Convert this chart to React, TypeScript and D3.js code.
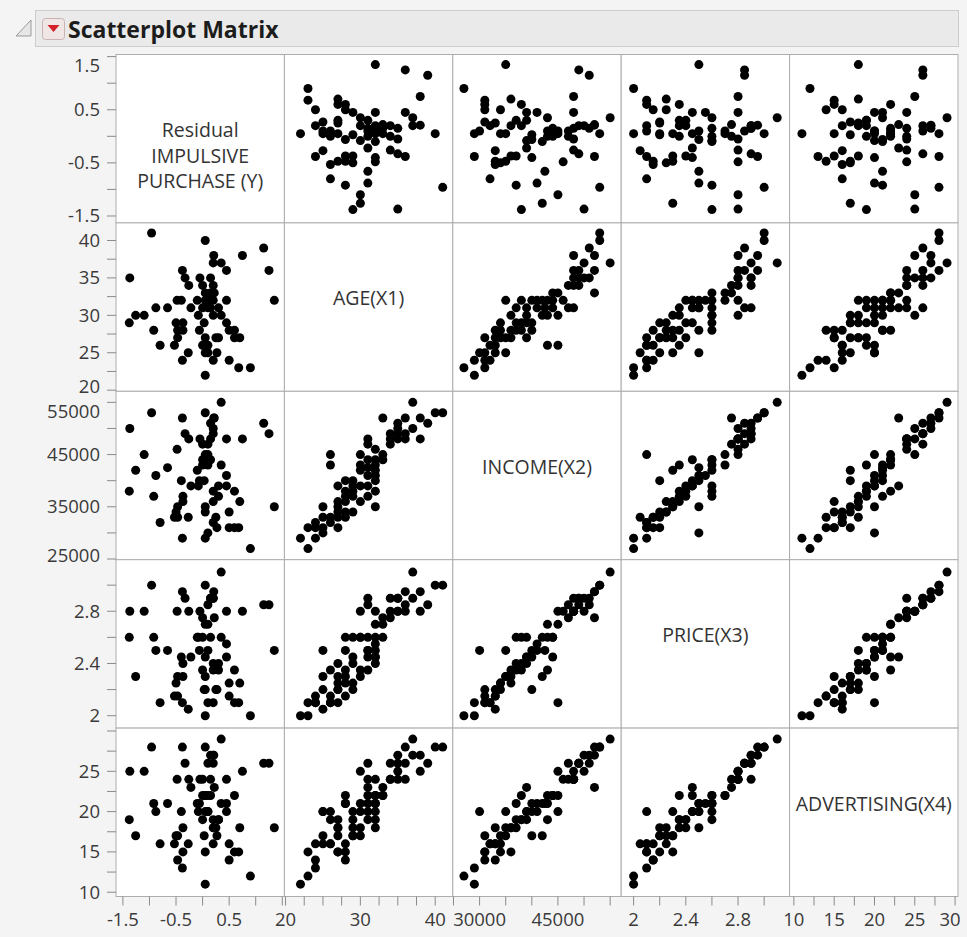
import React from 'react';
import * as d3 from 'd3';

// one entry per respondent
const age = [41, 40, 39, 38, 38, 37, 37, 36, 36, 36, 35, 35, 35, 35, 34, 34, 34, 33, 33, 33,
  32, 32, 32, 32, 32, 32, 32, 32, 31, 31, 31, 31, 31, 31, 31, 30, 30, 30, 30, 30,
  29, 29, 29, 29, 29, 28, 28, 28, 28, 28, 28, 27, 27, 27, 27, 27, 27, 26, 26, 26, 26,
  25, 25, 25, 25, 24, 24, 24, 23, 23, 22];
const income = [53000, 53000, 51000, 52000, 48000, 55000, 50000, 52000, 49000, 48000, 50000, 49000, 48000, 51000, 48000, 47000, 49000, 52000, 44000, 45000,
  35000, 46000, 40000, 42000, 44000, 38000, 41000, 43000, 41000, 42500, 39000, 44000, 47000, 48000, 37000, 42000, 45000, 39000, 36000, 43000,
  38000, 34000, 37000, 40000, 39000, 37000, 33000, 36000, 40000, 34000, 38000, 35000, 34000, 33000, 39000, 31000, 36000, 32000, 33000, 43000, 45000,
  35000, 30000, 31000, 33000, 29000, 31000, 32000, 27000, 31000, 29000];
const price = [3.0, 3.0, 2.85, 2.95, 2.8, 3.1, 2.9, 2.95, 2.85, 2.8, 2.8, 2.9, 2.8, 2.9, 2.8, 2.75, 2.9, 2.75, 2.6, 2.7,
  2.5, 2.8, 2.45, 2.6, 2.45, 2.4, 2.55, 2.7, 2.5, 2.5, 2.45, 2.6, 2.85, 2.9, 2.35, 2.3, 2.8, 2.6, 2.35, 2.6,
  2.6, 2.25, 2.4, 2.2, 2.45, 2.6, 2.15, 2.3, 2.5, 2.25, 2.35, 2.3, 2.2, 2.2, 2.4, 2.1, 2.25, 2.1, 2.15, 2.35, 2.1,
  2.3, 2.5, 2.2, 2.05, 2.1, 2.15, 2.1, 2.0, 2.1, 2.0];
const advertising = [28, 28, 26, 27, 25, 29, 27, 28, 26, 24, 25, 26, 24, 27, 24, 24, 26, 23, 22, 22,
  18, 24, 20, 21, 22, 19, 21, 22, 20, 21, 23, 22, 26, 24, 19, 17, 25, 20, 18, 21,
  19, 17, 18, 17, 20, 21, 14, 15, 21, 16, 22, 17, 15, 18, 19, 15, 18, 16, 16, 19, 20,
  20, 20, 17, 16, 13, 14, 16, 12, 15, 11];
const residual = [-0.96, 0.05, 1.15, 0.21, 0.75, 0.35, 0.2, -0.38, 1.25, 0.45, -1.37, -0.33, -0.05, 0.15, -0.26, 0.0, 0.2, 0.22, 0.15, 0.05,
  1.35, -0.48, -0.4, -0.1, 0.05, 0.2, 0.45, 0.1, -0.88, -0.66, -0.22, 0.0, 0.1, 0.15, 0.3, -1.26, -1.1, -0.08, 0.2, 0.35,
  -1.38, -0.5, -0.37, 0.03, 0.45, -0.92, -0.47, -0.37, -0.06, 0.5, 0.6, -0.47, 0.05, 0.25, 0.3, 0.6, 0.7, -0.8, -0.53, 0.0, 0.1,
  0.05, 0.1, 0.27, -0.27, -0.38, 0.5, 0.2, 0.9, 0.68, 0.05];

const columns = [residual, age, income, price, advertising];
const varLabels = [['Residual', 'IMPULSIVE', 'PURCHASE (Y)'], ['AGE(X1)'], ['INCOME(X2)'], ['PRICE(X3)'], ['ADVERTISING(X4)']];
const domains = [[-1.63, 1.54], [19.85, 42.35], [24870, 57115], [1.905, 3.195], [9.47, 30.36]];
const tickStart = [-1.5, 20, 25000, 2, 10];
const tickStop = [1.5, 40, 55000, 3, 30];
const tickStep = [0.5, 2.5, 5000, 0.2, 2.5];
const yTickLabels = [[-1.5, -0.5, 0.5, 1.5], [20, 25, 30, 35, 40], [25000, 35000, 45000, 55000], [2, 2.4, 2.8], [10, 15, 20, 25]];
const xTickLabels = [[-1.5, -0.5, 0.5], [20, 30, 40], [30000, 45000], [2, 2.4, 2.8], [10, 15, 20, 25, 30]];

const X0 = 116, Y0 = 54.5, CELL = 168.4;
const N = columns.length;
const font = "'Open Sans', 'Noto Sans', sans-serif";

const App = () => {
  const xs = domains.map((d, j) => d3.scaleLinear().domain(d).range([X0 + j * CELL, X0 + (j + 1) * CELL]));
  const ys = domains.map((d, i) => d3.scaleLinear().domain(d).range([Y0 + (i + 1) * CELL, Y0 + i * CELL]));
  const ticks = tickStart.map((s, k) => d3.range(s, tickStop[k] + tickStep[k] / 2, tickStep[k]));
  const bottom = Y0 + N * CELL;

  const cells = [];
  for (let i = 0; i < N; i++) {
    for (let j = 0; j < N; j++) {
      const cx = X0 + j * CELL, cy = Y0 + i * CELL;
      cells.push(<rect key={`c${i}-${j}`} x={cx} y={cy} width={CELL} height={CELL} fill="#fff" stroke="#adadad" />);
      if (i === j) {
        varLabels[i].forEach((t, k) => {
          cells.push(
            <text key={`l${i}-${k}`} x={cx + CELL / 2} y={cy + CELL / 2 - 8.5 + k * 25.5} dy="0.35em"
              textAnchor="middle" fontSize={19.5} fill="#333">{t}</text>
          );
        });
      } else {
        const xv = columns[j], yv = columns[i];
        xv.forEach((v, n) => {
          cells.push(<circle key={`p${i}-${j}-${n}`} cx={xs[j](v)} cy={ys[i](yv[n])} r={4.5} fill="#000" />);
        });
      }
    }
  }

  const axes = [];
  for (let i = 0; i < N; i++) {
    const top = Y0 + i * CELL, bot = top + CELL;
    ticks[i].forEach((t, k) => {
      const y = ys[i](t);
      axes.push(<line key={`yt${i}-${k}`} x1={107} x2={X0} y1={y} y2={y} stroke="#8a8a8a" />);
    });
    yTickLabels[i].forEach((t, k) => {
      const y = ys[i](t);
      // labels at the top edge hang below their tick, bottom ones sit a bit higher
      let baseline = y + 6.5;
      if (y - top < 12) baseline = y + 15.5;
      else if (bot - y < 3) baseline = y + 3;
      axes.push(<text key={`yl${i}-${k}`} x={100} y={baseline} textAnchor="end" fontSize={18.5} fill="#3a3a3a">{t}</text>);
    });
  }
  for (let j = 0; j < N; j++) {
    ticks[j].forEach((t, k) => {
      const x = xs[j](t);
      axes.push(<line key={`xt${j}-${k}`} x1={x} x2={x} y1={bottom} y2={bottom + 9} stroke="#8a8a8a" />);
    });
    xTickLabels[j].forEach((t, k) => {
      const x = Math.min(xs[j](t), 950);
      axes.push(<text key={`xl${j}-${k}`} x={x} y={926} textAnchor="middle" fontSize={18.5} fill="#3a3a3a">{t}</text>);
    });
  }

  return (
    <svg width={967} height={937} style={{ position: 'absolute', left: 0, top: 0 }} fontFamily={font}>
      <rect width={967} height={937} fill="#f4f4f4" />
      {/* outline header */}
      <rect x={35.5} y={10.5} width={923} height={36} fill="#eaeaea" stroke="#cdcdcd" />
      <path d="M31,20 L31,36 L16,36 Z" fill="#e6e6e6" stroke="#9a9a9a" />
      <rect x={42.5} y={18.5} width={22} height={21} rx={3} fill="#f1e6e6" stroke="#c9b3b3" />
      <path d="M47.5,25 L59.5,25 L53.5,32 Z" fill="#d4202a" />
      <text x={68} y={38} fontSize={23} fontWeight="bold" fill="#1c1c1c">Scatterplot Matrix</text>
      {cells}
      {axes}
    </svg>
  );
};

export default App;
